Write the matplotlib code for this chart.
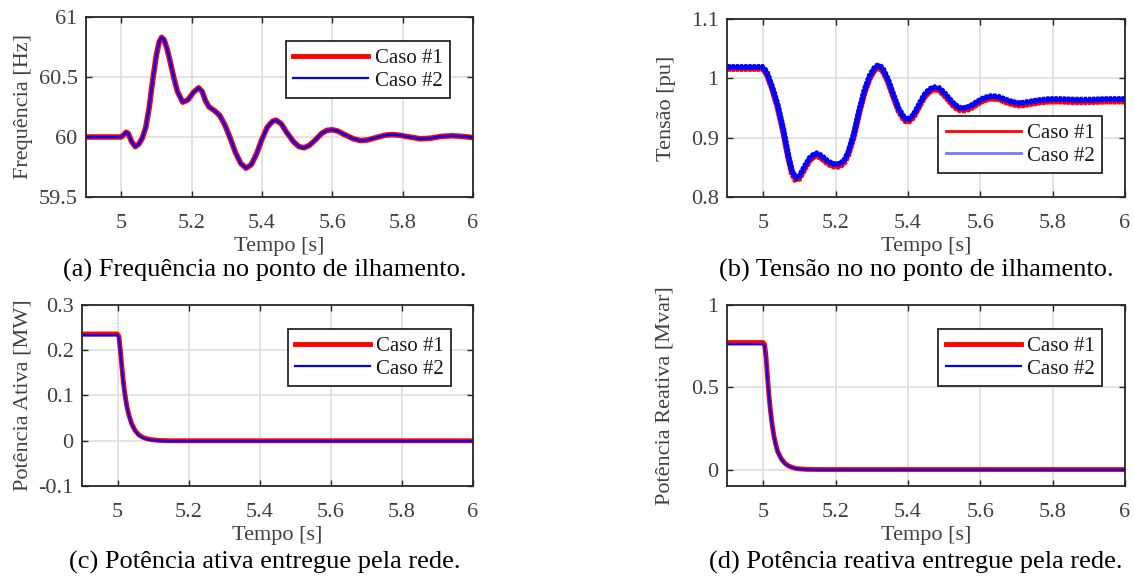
import matplotlib
matplotlib.use("Agg")
import matplotlib.pyplot as plt
import matplotlib.patheffects as pe
from matplotlib.lines import Line2D

plt.rcParams['font.family'] = ['Liberation Serif', 'DejaVu Serif']
plt.rcParams['mathtext.fontset'] = 'stix'

# Frequency at the islanding point [Hz]
t_freq = [4.90, 5.00, 5.008, 5.014, 5.02, 5.03, 5.04, 5.05, 5.06, 5.07, 5.08,
          5.09, 5.10, 5.108, 5.115, 5.122, 5.13, 5.14, 5.15, 5.16, 5.175,
          5.19, 5.205, 5.22, 5.23, 5.24, 5.25, 5.265, 5.28, 5.295, 5.31,
          5.325, 5.34, 5.355, 5.37, 5.385, 5.40, 5.415, 5.43, 5.44, 5.455,
          5.47, 5.49, 5.505, 5.52, 5.535, 5.55, 5.57, 5.585, 5.60, 5.615,
          5.635, 5.66, 5.68, 5.70, 5.725, 5.75, 5.77, 5.79, 5.82, 5.85,
          5.88, 5.91, 5.94, 5.97, 6.00]
freq = [60.0, 60.0, 60.02, 60.04, 60.03, 59.96, 59.92, 59.94, 59.99, 60.08,
        60.25, 60.48, 60.68, 60.79, 60.83, 60.81, 60.74, 60.62, 60.49, 60.38,
        60.29, 60.31, 60.37, 60.41, 60.38, 60.30, 60.25, 60.22, 60.18, 60.10,
        59.99, 59.87, 59.78, 59.74, 59.77, 59.86, 59.98, 60.08, 60.13, 60.14,
        60.11, 60.04, 59.96, 59.92, 59.91, 59.93, 59.97, 60.03, 60.055, 60.06,
        60.05, 60.02, 59.985, 59.97, 59.975, 59.995, 60.015, 60.02, 60.015,
        60.0, 59.985, 59.99, 60.005, 60.01, 60.005, 59.995]

# Voltage at the islanding point [pu]
t_volt = [4.90, 5.00, 5.01, 5.025, 5.04, 5.055, 5.07, 5.08, 5.09, 5.10, 5.115,
          5.13, 5.145, 5.16, 5.175, 5.19, 5.205, 5.215, 5.225, 5.235, 5.25,
          5.265, 5.28, 5.295, 5.31, 5.32, 5.33, 5.345, 5.36, 5.375, 5.39,
          5.40, 5.415, 5.43, 5.445, 5.46, 5.475, 5.485, 5.50, 5.515, 5.53,
          5.545, 5.56, 5.575, 5.59, 5.61, 5.63, 5.65, 5.67, 5.69, 5.71, 5.73,
          5.76, 5.79, 5.82, 5.86, 5.90, 5.95, 6.00]
volt_1 = [1.016, 1.016, 1.007, 0.982, 0.951, 0.911, 0.864, 0.839, 0.828, 0.831,
          0.848, 0.863, 0.870, 0.866, 0.858, 0.852, 0.851, 0.853, 0.859, 0.871,
          0.901, 0.941, 0.976, 1.001, 1.016, 1.018, 1.013, 0.994, 0.968, 0.944,
          0.929, 0.926, 0.934, 0.951, 0.968, 0.978, 0.981, 0.980, 0.972, 0.961,
          0.951, 0.946, 0.946, 0.950, 0.956, 0.963, 0.966, 0.965, 0.960, 0.956,
          0.954, 0.956, 0.959, 0.961, 0.961, 0.960, 0.960, 0.961, 0.961]
volt_2 = [1.019, 1.019, 1.010, 0.985, 0.955, 0.915, 0.868, 0.843, 0.832, 0.835,
          0.852, 0.867, 0.874, 0.870, 0.862, 0.856, 0.855, 0.857, 0.863, 0.875,
          0.905, 0.945, 0.980, 1.005, 1.020, 1.022, 1.017, 0.998, 0.972, 0.948,
          0.933, 0.930, 0.938, 0.955, 0.972, 0.982, 0.985, 0.984, 0.976, 0.965,
          0.955, 0.950, 0.950, 0.954, 0.960, 0.967, 0.970, 0.969, 0.964, 0.960,
          0.958, 0.960, 0.963, 0.965, 0.965, 0.964, 0.964, 0.965, 0.965]

# Active / reactive power delivered by the grid
t_pow = [4.90, 5.00, 5.004, 5.008, 5.012, 5.016, 5.02, 5.025, 5.03, 5.035,
         5.04, 5.05, 5.06, 5.07, 5.08, 5.09, 5.10, 5.12, 5.15, 6.00]
p_1 = [0.236, 0.236, 0.230, 0.200, 0.165, 0.133, 0.107, 0.082, 0.063, 0.049,
       0.037, 0.022, 0.013, 0.008, 0.005, 0.003, 0.002, 0.0005, 0.0, 0.0]
p_2 = [0.233, 0.233, 0.227, 0.197, 0.162, 0.130, 0.105, 0.080, 0.062, 0.048,
       0.036, 0.021, 0.012, 0.007, 0.004, 0.002, 0.001, 0.0, -0.001, -0.001]
q_1 = [0.772, 0.772, 0.760, 0.680, 0.560, 0.450, 0.360, 0.270, 0.200, 0.150,
       0.110, 0.065, 0.038, 0.022, 0.013, 0.007, 0.004, 0.001, 0.0, 0.0]
q_2 = [0.761, 0.761, 0.750, 0.670, 0.552, 0.443, 0.354, 0.265, 0.196, 0.147,
       0.107, 0.063, 0.036, 0.021, 0.012, 0.006, 0.003, 0.0, -0.002, -0.002]

x_ticks = [5, 5.2, 5.4, 5.6, 5.8, 6]
x_ticklabels = ['5', '5.2', '5.4', '5.6', '5.8', '6']

DARK = '#262626'
GRAY = '#404040'


def style_axes(ax, ylim, yticks, yticklabels, ylabel, ypad=4):
    ax.set_xlim(4.9, 6.0)
    ax.set_ylim(*ylim)
    ax.set_xticks(x_ticks)
    ax.set_xticklabels(x_ticklabels)
    ax.set_yticks(yticks)
    ax.set_yticklabels(yticklabels)
    ax.tick_params(direction='in', length=4, width=1.0, top=True, right=True,
                   labelsize=16, labelcolor=GRAY, color=DARK)
    ax.tick_params(axis='x', pad=12)
    ax.tick_params(axis='y', pad=6)
    for s in ax.spines.values():
        s.set_color(DARK)
        s.set_linewidth(1.3)
    ax.grid(True, color='#dedede', linewidth=1.2)
    ax.set_axisbelow(True)
    ax.set_xlabel('Tempo [s]', fontsize=16, color=GRAY, labelpad=3)
    ax.set_ylabel(ylabel, fontsize=16, color=GRAY, labelpad=ypad)


def add_legend(ax, handles, loc, anchor):
    leg = ax.legend(handles=handles, loc=loc, bbox_to_anchor=anchor,
                    borderaxespad=0, fancybox=False, framealpha=1,
                    edgecolor=DARK, fontsize=15, handlelength=3.6,
                    handletextpad=0.3, borderpad=0.35, labelspacing=0.15)
    leg.get_frame().set_linewidth(1.3)
    for txt in leg.get_texts():
        txt.set_color('#1a1a1a')
    return leg


def main():
    fig = plt.figure(figsize=(11.34, 5.78), dpi=100)

    ax_a = fig.add_axes([0.0758, 0.6592, 0.3413, 0.3114])
    ax_b = fig.add_axes([0.6411, 0.6592, 0.3510, 0.3080])
    ax_c = fig.add_axes([0.0723, 0.1592, 0.3448, 0.3131])
    ax_d = fig.add_axes([0.6411, 0.1592, 0.3510, 0.3131])

    thick = [Line2D([], [], color='red', lw=3.5, label='Caso #1'),
             Line2D([], [], color='blue', lw=1.6, label='Caso #2')]

    # (a) frequency
    ax_a.plot(t_freq, freq, color='red', lw=4.0, solid_capstyle='butt')
    ax_a.plot(t_freq, freq, color='blue', lw=1.8)
    style_axes(ax_a, (59.5, 61), [59.5, 60, 60.5, 61],
               ['59.5', '60', '60.5', '61'], 'Frequência [Hz]')
    add_legend(ax_a, thick, 'upper right', (0.94, 0.867))

    # (b) voltage, with the ripple of the instantaneous measurement
    ripple = [pe.Stroke(), pe.withTickedStroke(spacing=3, angle=90, length=0.3),
              pe.withTickedStroke(spacing=3, angle=-90, length=0.3)]
    ax_b.plot(t_volt, volt_1, color='red', lw=2.6, path_effects=ripple)
    ax_b.plot(t_volt, volt_2, color='blue', lw=2.4, path_effects=ripple)
    style_axes(ax_b, (0.8, 1.1), [0.8, 0.9, 1.0, 1.1],
               ['0.8', '0.9', '1', '1.1'], 'Tensão [pu]', ypad=11)
    thin = [Line2D([], [], color='red', lw=2.0, label='Caso #1'),
            Line2D([], [], color='#7878ff', lw=2.0, label='Caso #2')]
    add_legend(ax_b, thin, 'lower right', (0.942, 0.135))

    # (c) active power
    ax_c.plot(t_pow, p_1, color='red', lw=3.5)
    ax_c.plot(t_pow, p_2, color='blue', lw=1.6)
    style_axes(ax_c, (-0.1, 0.3), [-0.1, 0, 0.1, 0.2, 0.3],
               ['-0.1', '0', '0.1', '0.2', '0.3'], 'Potência Ativa [MW]')
    add_legend(ax_c, thick, 'upper right', (0.944, 0.867))

    # (d) reactive power
    ax_d.plot(t_pow, q_1, color='red', lw=3.5)
    ax_d.plot(t_pow, q_2, color='blue', lw=1.6)
    style_axes(ax_d, (-0.1, 1.0), [0, 0.5, 1],
               ['0', '0.5', '1'], 'Potência Reativa [Mvar]', ypad=12)
    add_legend(ax_d, thick, 'upper right', (0.942, 0.867))

    captions = [(265, 270, '(a) Frequência no ponto de ilhamento.'),
                (916, 270, '(b) Tensão no no ponto de ilhamento.'),
                (265, 562, '(c) Potência ativa entregue pela rede.'),
                (916, 562, '(d) Potência reativa entregue pela rede.')]
    for x, y, text in captions:
        fig.text(x / 1134, 1 - y / 578, text, ha='center', va='center',
                 fontsize=19, color='black')

    fig.savefig('out.png', dpi=100)


if __name__ == "__main__":
    main()
